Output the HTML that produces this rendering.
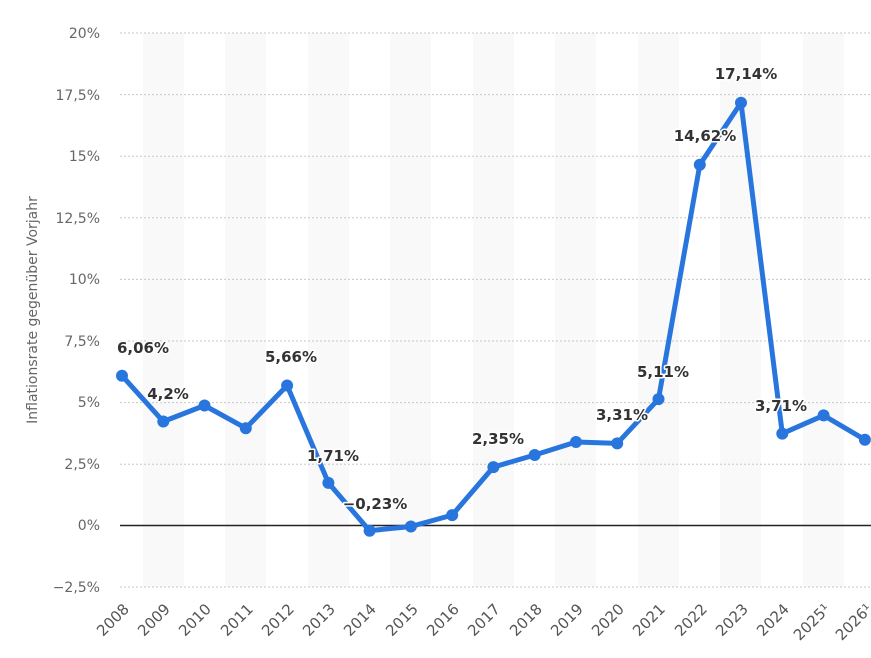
<!DOCTYPE html>
<html><head><meta charset="utf-8"><style>
html,body{margin:0;padding:0;background:#fff;}
svg{display:block;font-family:"DejaVu Sans","Liberation Sans",sans-serif;}
</style></head><body>
<svg width="871" height="658" viewBox="0 0 871 658" xmlns="http://www.w3.org/2000/svg">
<g fill="#f9f9f9">
<rect x="143" y="33" width="41" height="554"/>
<rect x="225" y="33" width="41" height="554"/>
<rect x="308" y="33" width="41" height="554"/>
<rect x="390" y="33" width="41" height="554"/>
<rect x="473" y="33" width="41" height="554"/>
<rect x="555" y="33" width="41" height="554"/>
<rect x="638" y="33" width="41" height="554"/>
<rect x="720" y="33" width="41" height="554"/>
<rect x="803" y="33" width="41" height="554"/>
</g>
<g stroke="#c8c8c8" stroke-width="1" stroke-dasharray="2,2">
<line x1="120" x2="871" y1="33" y2="33"/>
<line x1="120" x2="871" y1="94.6" y2="94.6"/>
<line x1="120" x2="871" y1="156.2" y2="156.2"/>
<line x1="120" x2="871" y1="217.8" y2="217.8"/>
<line x1="120" x2="871" y1="279.4" y2="279.4"/>
<line x1="120" x2="871" y1="341" y2="341"/>
<line x1="120" x2="871" y1="402.6" y2="402.6"/>
<line x1="120" x2="871" y1="464.2" y2="464.2"/>
<line x1="120" x2="871" y1="587" y2="587"/>
</g>
<line x1="120" x2="871" y1="525.5" y2="525.5" stroke="#222" stroke-width="1.5"/>
<g fill="#666" font-size="14" text-anchor="end">
<text x="100" y="38">20%</text>
<text x="100" y="100">17,5%</text>
<text x="100" y="161">15%</text>
<text x="100" y="223">12,5%</text>
<text x="100" y="284">10%</text>
<text x="100" y="346">7,5%</text>
<text x="100" y="407">5%</text>
<text x="100" y="469">2,5%</text>
<text x="100" y="530">0%</text>
<text x="100" y="592">−2,5%</text>
</g>
<text transform="translate(37,310) rotate(-90)" text-anchor="middle" fill="#666" font-size="14">Inflationsrate gegenüber Vorjahr</text>
<g fill="#555" font-size="15" text-anchor="end">
<text transform="translate(130,610) rotate(-45)">2008</text>
<text transform="translate(171,610) rotate(-45)">2009</text>
<text transform="translate(212,610) rotate(-45)">2010</text>
<text transform="translate(254,610) rotate(-45)">2011</text>
<text transform="translate(295,610) rotate(-45)">2012</text>
<text transform="translate(336,610) rotate(-45)">2013</text>
<text transform="translate(377,610) rotate(-45)">2014</text>
<text transform="translate(419,610) rotate(-45)">2015</text>
<text transform="translate(460,610) rotate(-45)">2016</text>
<text transform="translate(501,610) rotate(-45)">2017</text>
<text transform="translate(543,610) rotate(-45)">2018</text>
<text transform="translate(584,610) rotate(-45)">2019</text>
<text transform="translate(625,610) rotate(-45)">2020</text>
<text transform="translate(666,610) rotate(-45)">2021</text>
<text transform="translate(708,610) rotate(-45)">2022</text>
<text transform="translate(749,610) rotate(-45)">2023</text>
<text transform="translate(790,610) rotate(-45)">2024</text>
<text transform="translate(831,610) rotate(-45)">2025¹</text>
<text transform="translate(873,610) rotate(-45)">2026¹</text>
</g>
<polyline fill="none" stroke="#2876dd" stroke-width="5" stroke-linejoin="round" points="122,375.7 163.3,421.5 204.5,405.5 245.8,428.2 287.1,385.5 328.4,482.9 369.6,530.7 410.9,526.5 452.2,515.1 493.4,467.1 534.7,455 576,442 617.2,443.4 658.5,399.1 699.8,164.8 741,102.7 782.3,433.6 823.6,415.4 864.9,439.7"/>
<g fill="#2876dd">
<circle cx="122" cy="375.7" r="6"/><circle cx="163.3" cy="421.5" r="6"/><circle cx="204.5" cy="405.5" r="6"/><circle cx="245.8" cy="428.2" r="6"/><circle cx="287.1" cy="385.5" r="6"/><circle cx="328.4" cy="482.9" r="6"/><circle cx="369.6" cy="530.7" r="6"/><circle cx="410.9" cy="526.5" r="6"/><circle cx="452.2" cy="515.1" r="6"/><circle cx="493.4" cy="467.1" r="6"/><circle cx="534.7" cy="455" r="6"/><circle cx="576" cy="442" r="6"/><circle cx="617.2" cy="443.4" r="6"/><circle cx="658.5" cy="399.1" r="6"/><circle cx="699.8" cy="164.8" r="6"/><circle cx="741" cy="102.7" r="6"/><circle cx="782.3" cy="433.6" r="6"/><circle cx="823.6" cy="415.4" r="6"/><circle cx="864.9" cy="439.7" r="6"/>
</g>
<g fill="#333" font-size="15" font-weight="bold" text-anchor="middle" stroke="#fff" stroke-width="3" paint-order="stroke" stroke-linejoin="round">
<text x="143" y="353">6,06%</text>
<text x="168" y="399">4,2%</text>
<text x="291" y="362">5,66%</text>
<text x="333" y="461">1,71%</text>
<text x="375" y="509">−0,23%</text>
<text x="498" y="444">2,35%</text>
<text x="622" y="420">3,31%</text>
<text x="663" y="377">5,11%</text>
<text x="705" y="141">14,62%</text>
<text x="746" y="79">17,14%</text>
<text x="781" y="411">3,71%</text>
</g>
</svg>
</body></html>
